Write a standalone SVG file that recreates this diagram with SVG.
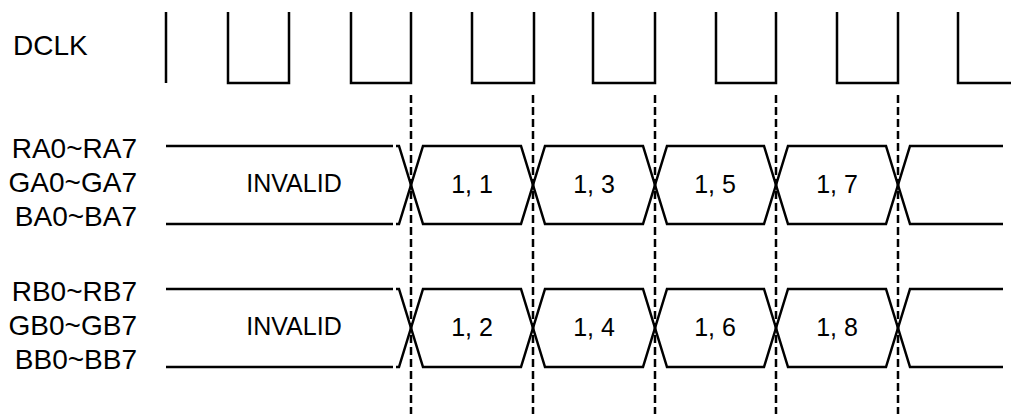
<svg xmlns="http://www.w3.org/2000/svg" width="1011" height="414" viewBox="0 0 1011 414">
<style>
.sig{fill:none;stroke:#000;stroke-width:2.5;stroke-linejoin:miter}
.dash{fill:none;stroke:#000;stroke-width:2.5;stroke-dasharray:8 4}
.lbl{font-family:"Liberation Sans",Arial,sans-serif;font-size:28px;fill:#000}
.val{font-family:"Liberation Sans",Arial,sans-serif;font-size:25px;fill:#000;text-anchor:middle}
</style>
<rect width="1011" height="414" fill="#fff"/>
<g id="dclk">
<text class="lbl" x="13" y="55">DCLK</text>
<path class="sig" d="M166,12 V83 M228,12 V83 H289 V12 M351,12 V83 H411 V12 M472,12 V83 H534 V12 M593,12 V83 H655 V12 M716,12 V83 H776 V12 M837,12 V83 H898 V12 M958,12 V83 H1011"/>
</g>
<g id="connectors">
<path class="dash" d="M411,95 V414 M533,95 V414 M655,95 V414 M776,95 V414 M898,95 V414"/>
</g>
<g id="busA">
<text class="lbl" x="137" y="158" text-anchor="end">RA0~RA7</text>
<text class="lbl" x="137" y="192" text-anchor="end">GA0~GA7</text>
<text class="lbl" x="137" y="226" text-anchor="end">BA0~BA7</text>
<path class="sig" d="M166,146 H393 M396,146 H399 L423,224 H521 L545,146 H643 L667,224 H764 L788,146 H886 L910,224 H1003"/>
<path class="sig" d="M166,224 H393 M396,224 H399 L423,146 H521 L545,224 H643 L667,146 H764 L788,224 H886 L910,146 H1003"/>
<text class="val" x="294" y="192">INVALID</text>
<text class="val" x="472" y="193">1, 1</text>
<text class="val" x="594" y="193">1, 3</text>
<text class="val" x="715" y="193">1, 5</text>
<text class="val" x="837" y="193">1, 7</text>
</g>
<g id="busB">
<text class="lbl" x="137" y="301" text-anchor="end">RB0~RB7</text>
<text class="lbl" x="137" y="335" text-anchor="end">GB0~GB7</text>
<text class="lbl" x="137" y="369" text-anchor="end">BB0~BB7</text>
<path class="sig" d="M166,289 H393 M396,289 H399 L423,367 H521 L545,289 H643 L667,367 H764 L788,289 H886 L910,367 H1003"/>
<path class="sig" d="M166,367 H393 M396,367 H399 L423,289 H521 L545,367 H643 L667,289 H764 L788,367 H886 L910,289 H1003"/>
<text class="val" x="294" y="335">INVALID</text>
<text class="val" x="472" y="336">1, 2</text>
<text class="val" x="594" y="336">1, 4</text>
<text class="val" x="715" y="336">1, 6</text>
<text class="val" x="837" y="336">1, 8</text>
</g>
</svg>
